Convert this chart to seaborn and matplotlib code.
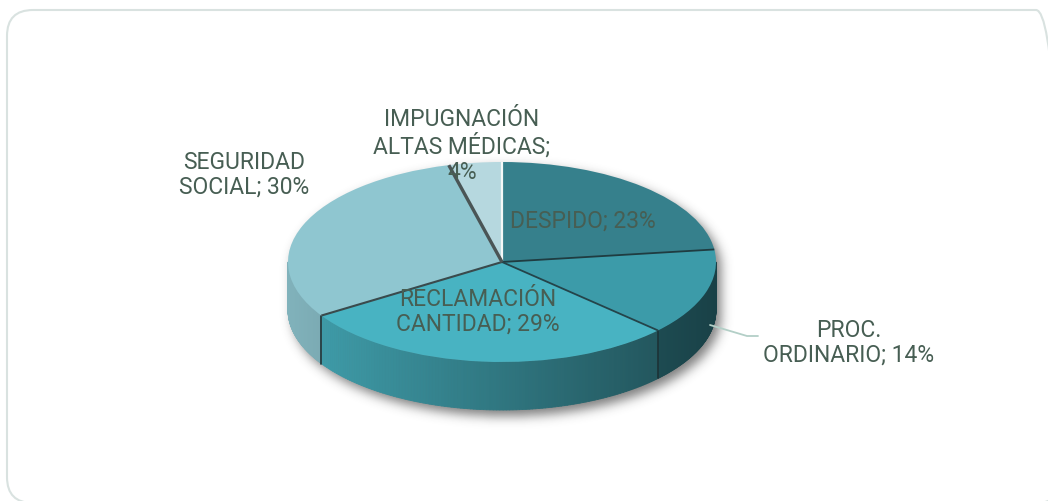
import textwrap

import numpy as np
import matplotlib
matplotlib.use("Agg")
import matplotlib.pyplot as plt
from matplotlib.collections import PolyCollection
from matplotlib.patches import FancyBboxPatch
from matplotlib.transforms import IdentityTransform
import seaborn as sns

# ---- data -------------------------------------------------------------
categories = ["DESPIDO", "PROC. ORDINARIO", "RECLAMACIÓN CANTIDAD",
              "SEGURIDAD SOCIAL", "IMPUGNACIÓN ALTAS MÉDICAS"]
shares = [23, 14, 29, 30, 4]
slice_colors = ["#36808c", "#3c9ba9", "#48b3c2", "#8fc6d0", "#b6d8df"]

# ---- layout (pixels) ---------------------------------------------------
W, H = 1048, 501
CX, CY, RX, RY = 502, 262, 214, 100      # top-face ellipse
DEPTH = 0.48                             # wall height, in RY units
label_pos = [(583, 221), (849, 343), (478, 312), (244, 175), (462, 146)]
TEXT_COLOR = "#475e53"

sns.set_theme(style="white")
plt.rcParams["font.family"] = ["Roboto", "DejaVu Sans"]

fig = plt.figure(figsize=(W / 100, H / 100), dpi=100)
fig.patch.set_facecolor("white")
ax = fig.add_axes([0, 0, 1, 1])
palette = sns.color_palette(slice_colors)


def to_data(px, py):
    return (px - CX) / RX, (CY - py) / RY


xlim = ((0 - CX) / RX, (W - CX) / RX)
ylim = ((CY - H) / RY, CY / RY)

# ---- soft drop shadow under the disc ------------------------------------
gx, gy = np.meshgrid(np.arange(W) + 0.5, np.arange(H) + 0.5)
u = (gx - CX - 5) / RX
v = (CY + 6 - gy) / RY
sil = (u ** 2 + v ** 2 <= 1) | (u ** 2 + (v + DEPTH) ** 2 <= 1) | \
      ((np.abs(u) <= 1) & (v <= 0) & (v >= -DEPTH))
sig = 5.5
k = np.arange(-18, 19)
kern = np.exp(-k ** 2 / (2 * sig ** 2))
kern /= kern.sum()
blur = sil.astype(float)
blur = np.apply_along_axis(lambda r: np.convolve(r, kern, mode="same"), 1, blur)
blur = np.apply_along_axis(lambda c: np.convolve(c, kern, mode="same"), 0, blur)
shadow = np.zeros((H, W, 4))
shadow[..., :3] = 0.22
shadow[..., 3] = 0.65 * blur
ax.imshow(shadow, extent=(xlim[0], xlim[1], ylim[0], ylim[1]),
          origin="upper", aspect="auto", zorder=1, interpolation="bilinear")

# ---- side wall (front half only) ----------------------------------------
bounds = 90 - 360 * np.cumsum([0] + shares) / sum(shares)
quads, qcols = [], []
for i, col in enumerate(palette):
    a0, a1 = bounds[i], bounds[i + 1]
    lo, hi = max(a1, -180), min(a0, 0)
    if hi <= lo:
        continue
    t = np.radians(np.linspace(lo, hi, 120))
    for ta, tb in zip(t[:-1], t[1:]):
        xa, ya, xb, yb = np.cos(ta), np.sin(ta), np.cos(tb), np.sin(tb)
        quads.append([(xa, ya), (xb, yb), (xb, yb - DEPTH), (xa, ya - DEPTH)])
        shade = 0.66 - 0.24 * np.cos((ta + tb) / 2)
        qcols.append(tuple(np.clip(np.array(col) * shade, 0, 1)))
ax.add_collection(PolyCollection(quads, facecolors=qcols, edgecolors=qcols,
                                 linewidths=0.6, zorder=2))
for b in bounds:
    if -180 < b < 0:
        bx, by = np.cos(np.radians(b)), np.sin(np.radians(b))
        ax.plot([bx, bx], [by, by - DEPTH], color="#1c3236", lw=1.2, zorder=2.5)

# ---- top face -----------------------------------------------------------
ax.pie(shares, colors=palette, startangle=90, counterclock=False, radius=1,
       center=(0, 0), wedgeprops=dict(linewidth=0, zorder=3))

# radial seams between slices
seam_colors = ["#f4f8f8", "#1f3c41", "#24444a", "#3a4a4c", "#4a5556"]
seam_widths = [1.6, 1.3, 1.3, 1.5, 2.4]
for b, sc, sw in zip(bounds[:-1], seam_colors, seam_widths):
    bx, by = np.cos(np.radians(b)), np.sin(np.radians(b))
    ax.plot([0, bx], [0, by], color=sc, lw=sw, zorder=3.5,
            solid_capstyle="butt")

# ---- labels -------------------------------------------------------------
for name, val, (px, py) in zip(categories, shares, label_pos):
    text = "\n".join(textwrap.wrap(f"{name}; {val}%", 14))
    x, y = to_data(px, py)
    ax.text(x, y, text, ha="center", va="center", fontsize=16.5,
            color=TEXT_COLOR, linespacing=1.12, zorder=6)

lx, ly = zip(*[to_data(710, 325), to_data(747, 336), to_data(758, 336)])
ax.plot(lx, ly, color="#b3cfc7", lw=1.3, zorder=4)

ax.set_xlim(*xlim)
ax.set_ylim(*ylim)
ax.set_aspect("auto")
ax.axis("off")

# ---- chart frame --------------------------------------------------------
frame = FancyBboxPatch((7, H - 503), 1055, 493,
                       boxstyle="round,pad=0,rounding_size=26",
                       transform=IdentityTransform(), facecolor="none",
                       edgecolor="#d9e2e0", linewidth=1.5)
fig.add_artist(frame)

fig.savefig("out.png", dpi=100)
